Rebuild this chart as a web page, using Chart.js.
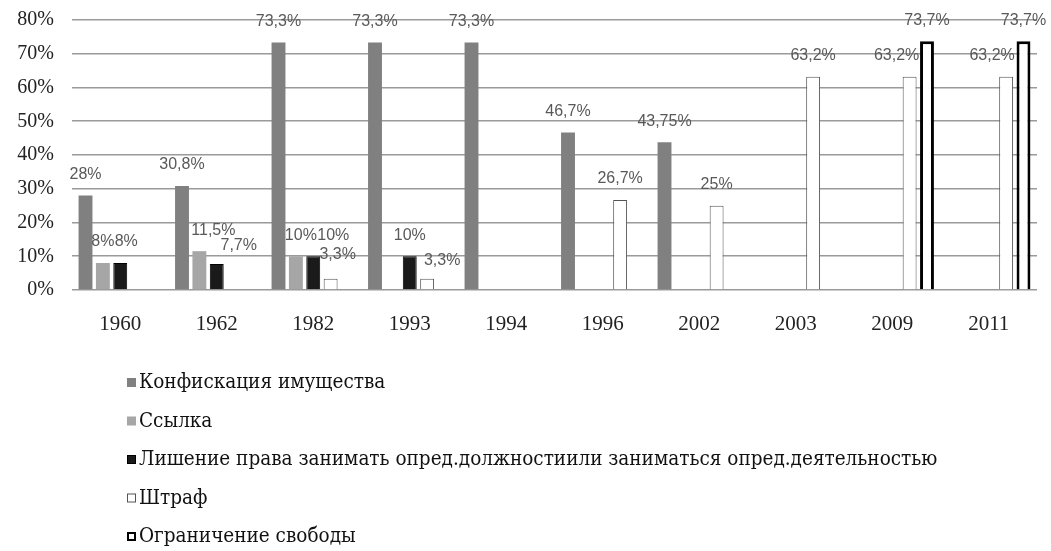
<!DOCTYPE html>
<html>
<head>
<meta charset="utf-8">
<script src="https://cdn.jsdelivr.net/npm/chart.js@4.4.0/dist/chart.umd.min.js"></script>
<style>
  body { margin: 0; background: #fff; width: 1051px; height: 551px; overflow: hidden; position: relative; }
  #wrap { position: absolute; left: 0; top: -10px; width: 1051px; height: 561px; }
</style>
</head>
<body>
<div id="wrap"><canvas id="chart"></canvas></div>
<script>
const years = ["1960", "1962", "1982", "1993", "1994", "1996", "2002", "2003", "2009", "2011"];
const confiscation = [28, 30.8, 73.3, 73.3, 73.3, 46.7, 43.75, null, null, null];
const exile = [8, 11.5, 10, null, null, null, null, null, null, null];
const deprivation = [8, 7.7, 10, 10, null, null, null, null, null, null];
const fine = [null, null, 3.3, 3.3, null, 26.7, 25, 63.2, 63.2, 63.2];
const restriction = [null, null, null, null, null, null, null, null, 73.7, 73.7];
const seriesNames = [
  "Конфискация имущества",
  "Ссылка",
  "Лишение права занимать опред.должностиили заниматься опред.деятельностью",
  "Штраф",
  "Ограничение свободы"
];
const yMin = 0, yMax = 80, yStep = 10;

function pct(v) {
  return String(v).replace(".", ",") + "%";
}

// hand-placed label shifts from the original, [dx, dy] by "dataset,index"
const labelNudge = {
  "2,0": [6, 0], "1,1": [14, 0], "2,1": [22, 3],
  "1,2": [5, 0], "2,2": [20, 0], "3,2": [7, -3],
  "3,3": [15, 3], "3,8": [-13, 0], "3,9": [-14, 0]
};

const valueLabels = {
  id: "valueLabels",
  afterDatasetsDraw(chart) {
    const ctx = chart.ctx;
    ctx.save();
    ctx.font = '16px "Liberation Sans", Arial, sans-serif';
    ctx.fillStyle = "#595959";
    ctx.textAlign = "center";
    ctx.textBaseline = "bottom";
    chart.data.datasets.forEach((ds, di) => {
      const meta = chart.getDatasetMeta(di);
      meta.data.forEach((bar, i) => {
        const v = ds.data[i];
        if (v === null || v === undefined) return;
        const n = labelNudge[di + "," + i] || [0, 0];
        ctx.fillText(pct(v), bar.x + n[0], bar.y - 13 + n[1]);
      });
    });
    ctx.restore();
  }
};

// legend as a single column under the plot
const columnLegend = {
  id: "columnLegend",
  afterDraw(chart) {
    const ctx = chart.ctx;
    const x0 = 127, y0 = 393, step = 38.5;
    ctx.save();
    ctx.font = '20.5px "DejaVu Serif Condensed", "DejaVu Serif", serif';
    ctx.textBaseline = "middle";
    ctx.textAlign = "left";
    chart.data.datasets.forEach((ds, i) => {
      const y = y0 + i * step;
      ctx.fillStyle = ds.backgroundColor;
      ctx.fillRect(x0, y - 5, 9, 9);
      if (ds.borderWidth) {
        const w = Math.min(ds.borderWidth, 2);
        ctx.strokeStyle = ds.borderColor;
        ctx.lineWidth = w;
        ctx.strokeRect(x0 + w / 2, y - 5 + w / 2, 9 - w, 9 - w);
      }
      ctx.fillStyle = "#111";
      ctx.fillText(ds.label, x0 + 12, y);
    });
    ctx.restore();
  }
};

const styles = [
  { backgroundColor: "#808080", borderColor: "#808080", borderWidth: 0 },
  { backgroundColor: "#a6a6a6", borderColor: "#a6a6a6", borderWidth: 0 },
  { backgroundColor: "#1a1a1a", borderColor: "#000", borderWidth: 1 },
  { backgroundColor: "#fff", borderColor: "#555", borderWidth: 1 },
  { backgroundColor: "#fff", borderColor: "#000", borderWidth: 3 }
];
const seriesData = [confiscation, exile, deprivation, fine, restriction];

const chart = new Chart(document.getElementById("chart"), {
  type: "bar",
  data: {
    labels: years,
    datasets: seriesData.map((d, i) => Object.assign({
      label: seriesNames[i],
      data: d,
      barPercentage: 0.8,
      categoryPercentage: 0.9
    }, styles[i]))
  },
  options: {
    responsive: true,
    maintainAspectRatio: false,
    animation: false,
    layout: { padding: { top: 9, right: 14, left: 0, bottom: 201 } },
    plugins: { legend: { display: false }, tooltip: { enabled: false } },
    scales: {
      x: {
        grid: { display: false, drawTicks: false },
        border: { display: false },
        ticks: { padding: 22, color: "#222", font: { family: "Liberation Serif", size: 21 } },
        afterFit: s => { s.height = 60; }
      },
      y: {
        min: yMin, max: yMax,
        grid: { color: "#9a9a9a", lineWidth: 1.6, drawTicks: false },
        border: { display: false },
        ticks: {
          stepSize: yStep, padding: 18, color: "#222",
          font: { family: "Liberation Serif", size: 20 },
          callback: v => v + "%"
        },
        afterFit: s => { s.width = 72; }
      }
    }
  },
  plugins: [valueLabels, columnLegend]
});
</script>
</body>
</html>
